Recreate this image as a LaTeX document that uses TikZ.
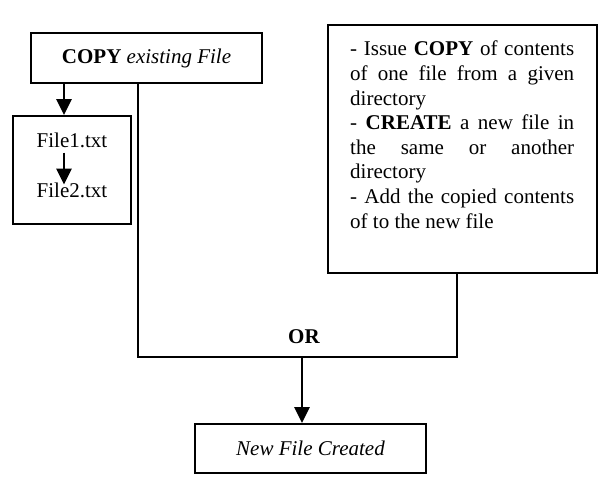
\documentclass[tikz,border=0pt]{standalone}
\usepackage{fontspec}
\setmainfont{Liberation Serif}
\usetikzlibrary{arrows.meta}
\begin{document}
\begin{tikzpicture}[x=1pt,y=-1pt,
  box/.style={draw,line width=1.8pt,inner sep=0pt,align=center},
  conn/.style={line width=1.8pt},
  arr/.style={line width=2.6pt,-{Triangle[width=15pt,length=16pt]}},
  txt/.style={font=\fontsize{21}{24.6}\selectfont}]
\useasboundingbox (0,0) rectangle (599,491);
\node[box,txt,minimum width=231pt,minimum height=50pt] (copy) at (146.5,58) {\textbf{COPY} \textit{existing File}};
\node[box,minimum width=118pt,minimum height=108pt] (files) at (72,170) {};
\node[txt,inner sep=0pt,anchor=base] (f1) at (72,147) {File1.txt};
\node[txt,inner sep=0pt,anchor=base] (f2) at (72,197) {File2.txt};
\node[box,minimum width=269pt,minimum height=248pt] (desc) at (462.5,149) {};
\node[txt,inner sep=0pt,anchor=north west,text width=224pt,align=justify] (desctext) at (350,41)
 {\tolerance=10000\hyphenpenalty=10000
  - Issue \textbf{COPY} of contents\linebreak of one file from a given\linebreak directory\par
  - \textbf{CREATE} a new file in\linebreak the same or another\linebreak directory\par
  - Add the copied contents\linebreak of to the new file\par};
\node[box,txt,minimum width=231pt,minimum height=49pt] (newf) at (310.5,448.5) {\textit{New File Created}};
\node[txt,inner sep=0pt] (or) at (304,337) {\textbf{OR}};
\coordinate (a1) at (64,0);
\coordinate (a2) at (64,0);
\coordinate (jl) at (138,357);
\coordinate (jr) at (457,357);
\coordinate (jm) at (302,357);
\draw[arr] (copy.south -| a1) -- (a1 |- files.north);
\draw[arr,shorten <=5pt,shorten >=-2.3pt] (f1.south -| a2) -- (a2 |- f2.north);
\draw[conn] (copy.south -| jl) -- (jl) -- (jr) -- (jr |- desc.south);
\draw[arr] (jm) -- (jm |- newf.north);
\end{tikzpicture}
\end{document}
